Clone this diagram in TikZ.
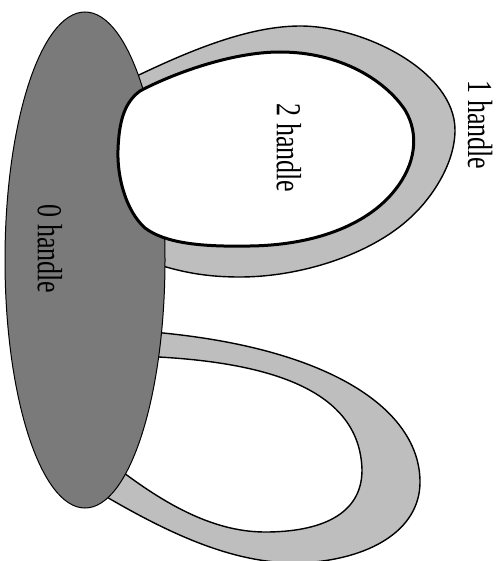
\documentclass[tikz,border=0pt]{standalone}
\usepackage{fontspec}
\setmainfont{Liberation Serif}
\definecolor{bandgray}{HTML}{BEBEBE}
\definecolor{ellgray}{HTML}{7A7A7A}
\begin{document}
\begin{tikzpicture}[x=1pt,y=-1pt,
  band/.style={fill=bandgray, draw=black, line width=1.4pt},
  hole/.style={fill=white, draw=black, line width=1.4pt},
  thickhole/.style={fill=white, draw=black, line width=3pt},
  zero/.style={fill=ellgray, draw=black, line width=1pt},
  lbl/.style={rotate=-90, yscale=1.35, inner sep=0pt, font=\fontsize{26}{29}\selectfont}]
\useasboundingbox (0,0) rectangle (501,561);
\clip (0,0) rectangle (501,561);
% upper handle band (1 handle)
\path[band] (120,84) .. controls (170,60) and (240,26) .. (300,26)
  .. controls (365,26) and (455,72) .. (455,130)
  .. controls (455,165) and (430,200) .. (410,218)
  .. controls (370,255) and (300,277) .. (240,277)
  .. controls (205,277) and (180,272) .. (150,262)
  -- (110,200) -- (110,100) -- cycle;
% lower handle band
\path[band] (140,331) .. controls (330,345) and (420,410) .. (420,482)
  .. controls (420,530) and (370,560) .. (300,563)
  .. controls (240,564) and (180,540) .. (105,496)
  -- (70,420) -- cycle;
\path[hole] (135,356) .. controls (270,360) and (360,390) .. (362,470)
  .. controls (362,515) and (320,532) .. (265,532)
  .. controls (210,532) and (160,500) .. (120,470)
  -- (90,420) -- cycle;
% 0 handle
\path[zero] (85,260) ellipse [x radius=80, y radius=248];
% 2 handle region
\path[thickhole] (140,91) .. controls (170,75) and (230,52) .. (280,52)
  .. controls (340,52) and (385,80) .. (405,110)
  .. controls (420,135) and (415,165) .. (395,190)
  .. controls (370,222) and (320,245) .. (250,246)
  .. controls (200,247) and (165,243) .. (145,228)
  .. controls (125,210) and (117,175) .. (118,150)
  .. controls (119,120) and (125,102) .. cycle;
% labels
\node[lbl] (h1) at (480,125) {1 handle};
\node[lbl] (h2) at (289,148) {2 handle};
\node[lbl] (h0) at (50,249) {0 handle};
\end{tikzpicture}
\end{document}
